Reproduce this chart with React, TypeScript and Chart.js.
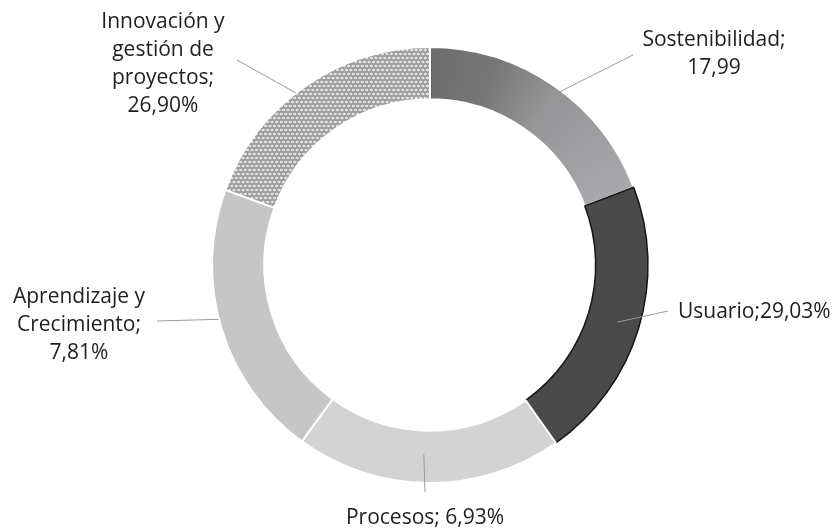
import React, { useEffect, useRef } from "react";
import { Chart, registerables } from "chart.js";

Chart.register(...registerables);

// ---- data ----
const categories = [
  "Sostenibilidad",
  "Usuario",
  "Procesos",
  "Aprendizaje y Crecimiento",
  "Innovación y gestión de proyectos",
];
// values printed in the labels
const printedValues = [17.99, 29.03, 6.93, 7.81, 26.9];
const printedSuffix = ["", "%", "%", "%", "%"];
// share of the ring each arc occupies, as read from the drawn arcs (percent)
const arcShares = [19.2, 21.0, 19.8, 20.6, 19.4];
// label lines before the value; `valueOnLastLine` joins the value to the last line
const labelHeads = [
  ["Sostenibilidad;"],
  ["Usuario;"],
  ["Procesos; "],
  ["Aprendizaje y", "Crecimiento;"],
  ["Innovación y", "gestión de", "proyectos;"],
];
const valueOnLastLine = [false, true, true, false, false];

const fmt = (v: number, suffix: string) => v.toFixed(2).replace(".", ",") + suffix;

const labelLines: string[][] = labelHeads.map((head, i) => {
  const val = fmt(printedValues[i], printedSuffix[i]);
  if (valueOnLastLine[i]) {
    const copy = head.slice();
    copy[copy.length - 1] = copy[copy.length - 1] + val;
    return copy;
  }
  return [...head, val];
});

// ---- layout (relative to chart centre) ----
const labelLayout = [
  { r: 0.92, nudge: 0, end: [203, -210], text: [284, -225], align: "center" },
  { r: 0.9, nudge: 0, end: [238, 46], text: [248, 47], align: "left" },
  { r: 0.87, nudge: 1.5, end: [-5, 227], text: [-5, 253], align: "center" },
  { r: 1.0, nudge: 2.5, end: [-273, 56], text: [-351, 32], align: "center" },
  { r: 1.0, nudge: -3, end: [-193, -205], text: [-267, -243], align: "center" },
];
const LINE_H = 28;
const FONT = '21px "Open Sans"';

function makeDotPattern(ctx: CanvasRenderingContext2D) {
  const c = document.createElement("canvas");
  c.width = 9;
  c.height = 8;
  const g = c.getContext("2d")!;
  g.fillStyle = "#9c9c9c";
  g.fillRect(0, 0, 9, 8);
  g.fillStyle = "#e2e2e2";
  const dots = [
    [2.25, 2],
    [6.75, 2],
    [0, 6],
    [4.5, 6],
    [9, 6],
  ];
  for (const [x, y] of dots) {
    g.beginPath();
    g.ellipse(x, y, 1.7, 1.25, 0, 0, Math.PI * 2);
    g.fill();
  }
  return ctx.createPattern(c, "repeat");
}

const labelPlugin = {
  id: "outsideLabels",
  afterDraw(chart: any) {
    const ctx: CanvasRenderingContext2D = chart.ctx;
    const meta = chart.getDatasetMeta(0);
    ctx.save();
    meta.data.forEach((arc: any, i: number) => {
      const p = arc.getProps(["x", "y", "startAngle", "endAngle", "outerRadius"], true);
      const lay = labelLayout[i];
      const mid = (p.startAngle + p.endAngle) / 2 + (lay.nudge * Math.PI) / 180;
      const sx = p.x + Math.cos(mid) * p.outerRadius * lay.r;
      const sy = p.y + Math.sin(mid) * p.outerRadius * lay.r;
      const ex = p.x + lay.end[0];
      const ey = p.y + lay.end[1];
      ctx.strokeStyle = "#9a9a9a";
      ctx.lineWidth = 1;
      ctx.beginPath();
      ctx.moveTo(sx, sy);
      ctx.lineTo(ex, ey);
      ctx.stroke();

      ctx.font = FONT;
      ctx.fillStyle = "#1e1e1e";
      ctx.textBaseline = "middle";
      ctx.textAlign = lay.align as CanvasTextAlign;
      labelLines[i].forEach((line, k) => {
        ctx.fillText(line, p.x + lay.text[0], p.y + lay.text[1] + k * LINE_H);
      });
    });
    ctx.restore();
  },
};

export default function App() {
  const ref = useRef<HTMLCanvasElement>(null);

  useEffect(() => {
    const canvas = ref.current!;
    const ctx2d = canvas.getContext("2d")!;
    const pattern = makeDotPattern(ctx2d);

    const chart = new Chart(canvas, {
      type: "doughnut",
      data: {
        labels: categories,
        datasets: [
          {
            data: arcShares,
            backgroundColor: (c: any) => {
              const i = c.dataIndex;
              if (i === 0) {
                const area = c.chart.chartArea;
                if (!area) return "#8e8e92";
                const cx = (area.left + area.right) / 2;
                const cy = (area.top + area.bottom) / 2;
                const g = c.chart.ctx.createConicGradient(-Math.PI / 2, cx, cy);
                g.addColorStop(0, "#6c6c6c");
                g.addColorStop(0.05, "#777777");
                g.addColorStop(0.1, "#959597");
                g.addColorStop(0.19, "#a9a9ad");
                g.addColorStop(1, "#a9a9ad");
                return g;
              }
              return ["", "#4a4a4a", "#d3d3d3", "#c6c6c6", pattern][i];
            },
            borderColor: ["#ffffff", "#161616", "#ffffff", "#ffffff", "#ffffff"],
            borderWidth: [2, 1.5, 2, 2, 2],
          } as any,
        ],
      },
      options: {
        responsive: false,
        animation: false,
        cutout: "76%",
        layout: { padding: { left: 211, top: 46, right: 186, bottom: 47 } },
        plugins: {
          legend: { display: false },
          tooltip: { enabled: false },
        },
      },
      plugins: [labelPlugin],
    });
    return () => chart.destroy();
  }, []);

  return (
    <div style={{ position: "absolute", left: 0, top: 0, width: 835, height: 531, background: "#ffffff" }}>
      <canvas ref={ref} width={835} height={531} style={{ display: "block" }} />
    </div>
  );
}
